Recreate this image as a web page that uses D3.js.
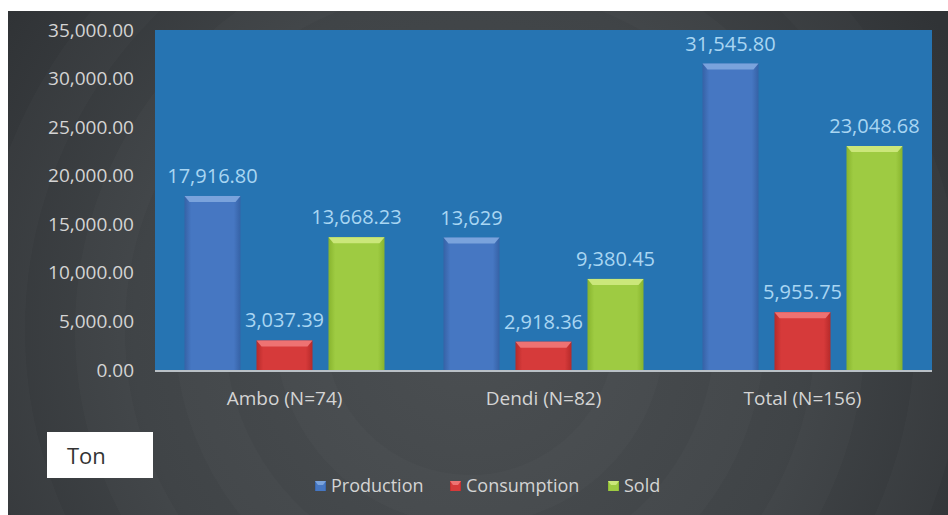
<!DOCTYPE html>
<html>
<head>
<meta charset="utf-8">
<script src="https://cdn.jsdelivr.net/npm/d3@7"></script>
<style>
  body { margin: 0; background: #fff; }
  svg { display: block; }
  text { font-family: "Open Sans", sans-serif; }
</style>
</head>
<body>
<svg id="viz"></svg>
<script>
var categories = ['Ambo (N=74)', 'Dendi (N=82)', 'Total (N=156)'];
var seriesNames = ['Production', 'Consumption', 'Sold'];
var production = [17916.8, 13629, 31545.8];
var consumption = [3037.39, 2918.36, 5955.75];
var sold = [13668.23, 9380.45, 23048.68];
var productionLabels = ['17,916.80', '13,629', '31,545.80'];
var consumptionLabels = ['3,037.39', '2,918.36', '5,955.75'];
var soldLabels = ['13,668.23', '9,380.45', '23,048.68'];
var yTicks = [0, 5000, 10000, 15000, 20000, 25000, 30000, 35000];

var width = 948, height = 515;
var plot = { left: 155, right: 932, top: 30, bottom: 370 };

var svg = d3.select('#viz').attr('width', width).attr('height', height);
var defs = svg.append('defs');

// dark background with soft rings
var bg = defs.append('radialGradient').attr('id', 'bg')
  .attr('gradientUnits', 'userSpaceOnUse')
  .attr('cx', 470).attr('cy', 330).attr('r', 560);
bg.append('stop').attr('offset', '0%').attr('stop-color', '#4b4f52');
bg.append('stop').attr('offset', '60%').attr('stop-color', '#404447');
bg.append('stop').attr('offset', '100%').attr('stop-color', '#303336');

svg.append('rect').attr('x', 8).attr('y', 11)
  .attr('width', width - 8).attr('height', height - 11)
  .attr('fill', 'url(#bg)');

var rings = [170, 270, 370, 470];
svg.append('g')
  .selectAll('circle')
  .data(rings)
  .join('circle')
  .attr('cx', 470).attr('cy', 330)
  .attr('r', (d) => d)
  .attr('fill', 'none')
  .attr('stroke', '#ffffff')
  .attr('stroke-opacity', 0.018)
  .attr('stroke-width', 50);

// cover ring overflow onto the white margin
svg.append('rect').attr('x', 0).attr('y', 0).attr('width', width).attr('height', 11).attr('fill', '#fff');
svg.append('rect').attr('x', 0).attr('y', 0).attr('width', 8).attr('height', height).attr('fill', '#fff');

var colors = {
  Production: ['#3662a6', '#4677c2', '#7aa3dc'],
  Consumption: ['#b62a2a', '#d63a3a', '#ee7272'],
  Sold: ['#88b42e', '#9ecb42', '#cbe77a']
};

seriesNames.forEach(function (s) {
  var g = defs.append('linearGradient').attr('id', 'g' + s)
    .attr('x1', '0%').attr('x2', '100%').attr('y1', '0%').attr('y2', '0%');
  g.append('stop').attr('offset', '0%').attr('stop-color', colors[s][0]);
  g.append('stop').attr('offset', '12%').attr('stop-color', colors[s][1]);
  g.append('stop').attr('offset', '88%').attr('stop-color', colors[s][1]);
  g.append('stop').attr('offset', '100%').attr('stop-color', colors[s][0]);
});

// plot area
svg.append('rect')
  .attr('x', plot.left).attr('y', plot.top)
  .attr('width', plot.right - plot.left).attr('height', plot.bottom - plot.top)
  .attr('fill', '#2674b2');

var x0 = d3.scaleBand().domain(categories).range([plot.left, plot.right]);
var x1 = d3.scaleBand().domain(seriesNames)
  .range([(x0.bandwidth() - 200) / 2, (x0.bandwidth() + 200) / 2])
  .paddingInner(0.222);
var y = d3.scaleLinear().domain([0, 35000]).range([plot.bottom, plot.top]);

var yAxis = svg.append('g')
  .attr('transform', 'translate(' + 134 + ',0)')
  .call(d3.axisLeft(y).tickValues(yTicks).tickSize(0).tickFormat(d3.format(',.2f')));
yAxis.select('.domain').remove();
yAxis.selectAll('text')
  .attr('x', 0)
  .attr('fill', '#d4d4d4')
  .style('font-size', '19px');

var rows = categories.map(function (c, i) {
  return [
    { cat: c, s: 'Production', v: production[i], label: productionLabels[i] },
    { cat: c, s: 'Consumption', v: consumption[i], label: consumptionLabels[i] },
    { cat: c, s: 'Sold', v: sold[i], label: soldLabels[i] }
  ];
});
var flat = [].concat.apply([], rows);

var bars = svg.append('g').selectAll('g.bar')
  .data(flat)
  .join('g')
  .attr('class', 'bar');

bars.append('rect')
  .attr('x', (d) => x0(d.cat) + x1(d.s))
  .attr('y', (d) => y(d.v))
  .attr('width', x1.bandwidth())
  .attr('height', (d) => y(0) - y(d.v))
  .attr('fill', (d) => 'url(#g' + d.s + ')');

// bevelled top cap
bars.append('path')
  .attr('d', function (d) {
    var xl = x0(d.cat) + x1(d.s), xr = xl + x1.bandwidth(), yt = y(d.v);
    return 'M' + xl + ',' + yt + 'L' + xr + ',' + yt +
      'L' + (xr - 5) + ',' + (yt + 6) + 'L' + (xl + 5) + ',' + (yt + 6) + 'Z';
  })
  .attr('fill', (d) => colors[d.s][2]);

bars.append('text')
  .attr('x', (d) => x0(d.cat) + x1(d.s) + x1.bandwidth() / 2)
  .attr('y', (d) => y(d.v) - 13)
  .attr('text-anchor', 'middle')
  .attr('fill', '#a9d6f2')
  .style('font-size', '20px')
  .text((d) => d.label);

// baseline
svg.append('line')
  .attr('x1', plot.left).attr('x2', plot.right)
  .attr('y1', plot.bottom + 1).attr('y2', plot.bottom + 1)
  .attr('stroke', '#b9c0c6').attr('stroke-width', 2);

var xAxis = svg.append('g')
  .attr('transform', 'translate(0,' + (plot.bottom + 2) + ')')
  .call(d3.axisBottom(x0).tickSize(0));
xAxis.select('.domain').remove();
xAxis.selectAll('text')
  .attr('y', 20)
  .attr('fill', '#d4d4d4')
  .style('font-size', '19px');

// unit box
svg.append('rect').attr('x', 47).attr('y', 432).attr('width', 106).attr('height', 46)
  .attr('fill', '#fff');
svg.append('text').attr('x', 67).attr('y', 464)
  .attr('fill', '#333').style('font-size', '22px').text('Ton');

// legend
var legendX = [315, 450, 608];
var legend = svg.append('g').selectAll('g')
  .data(seriesNames)
  .join('g')
  .attr('transform', (d, i) => 'translate(' + legendX[i] + ',486)');
legend.append('rect')
  .attr('x', 0).attr('y', -5).attr('width', 11).attr('height', 10)
  .attr('fill', (d) => 'url(#g' + d + ')');
legend.append('path')
  .attr('d', 'M0,-5L11,-5L8,-1L3,-1Z')
  .attr('fill', (d) => colors[d][2]);
legend.append('text')
  .attr('x', 16).attr('y', 6)
  .attr('fill', '#d4d4d4')
  .style('font-size', '18px')
  .text((d) => d);
</script>
</body>
</html>
